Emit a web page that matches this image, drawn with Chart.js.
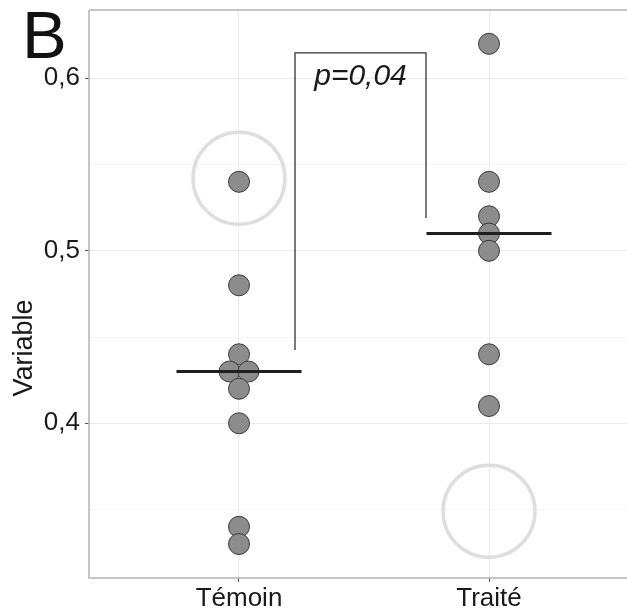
<!DOCTYPE html>
<html>
<head>
<meta charset="utf-8">
<script src="https://cdn.jsdelivr.net/npm/chart.js@4.4.1/dist/chart.umd.min.js"></script>
<style>
  html, body { margin: 0; padding: 0; background: #ffffff; overflow: hidden; }
  canvas { display: block; }
</style>
</head>
<body>
<canvas id="chart" width="627" height="612"></canvas>
<script>
// Groups on the x axis
const groups = ['Témoin', 'Traité'];

// Measured values per group
const temoinValues = [0.54, 0.48, 0.44, 0.43, 0.43, 0.42, 0.40, 0.34, 0.33];
const traiteValues = [0.62, 0.54, 0.52, 0.51, 0.50, 0.44, 0.41];

// Y axis ticks (labelled ones every 0.1, minor grid in between)
const yTickValues = [0.35, 0.40, 0.45, 0.50, 0.55, 0.60];
const yAxisTitle = 'Variable';
const panelLabel = 'B';

// Highlight rings: group index (1-based) and value
const ringGroups = [1, 2];
const ringValues = [0.542, 0.349];

// Significance bracket: x ends, top, and bottom of each leg
const bracketX = [1.224, 1.748];
const bracketTop = 0.6147;
const bracketLegBottom = [0.4425, 0.519];
const pValueLabel = 'p=0,04';

const FONT = "'Liberation Sans', Arial, Helvetica, sans-serif";

function median(arr) {
  const s = [...arr].sort((a, b) => a - b);
  const m = Math.floor(s.length / 2);
  return s.length % 2 ? s[m] : (s[m - 1] + s[m]) / 2;
}

// Spread tied values sideways so that equal points sit next to each other
function dotPoints(values, center) {
  const counts = {};
  values.forEach(v => { counts[v] = (counts[v] || 0) + 1; });
  const seen = {};
  return values.map(v => {
    const k = counts[v];
    const i = seen[v] || 0;
    seen[v] = i + 1;
    return { x: center + (i - (k - 1) / 2) * 0.076, y: v };
  });
}

const temoinMedian = median(temoinValues);
const traiteMedian = median(traiteValues);

const isMajor = v => Math.abs(Math.round(v * 10) - v * 10) < 1e-6;
const isGroup = v => Math.abs(Math.round(v) - v) < 1e-6 && v >= 1 && v <= groups.length;

// Fixed axis sizes, no extra edge padding for labels
function fixBox(size, horizontal) {
  return scale => {
    if (horizontal) scale.height = size; else scale.width = size;
    scale.paddingTop = 0;
    scale.paddingBottom = 0;
    scale.paddingLeft = 0;
    scale.paddingRight = 0;
  };
}

const framePlugin = {
  id: 'frame',
  beforeDatasetsDraw(chart) {
    const { ctx, chartArea: a } = chart;
    ctx.save();
    ctx.strokeStyle = '#b3b3b3';
    ctx.lineWidth = 1.5;
    ctx.beginPath();
    ctx.moveTo(a.left, a.top);
    ctx.lineTo(a.right, a.top);
    ctx.moveTo(a.left, a.top);
    ctx.lineTo(a.left, a.bottom);
    ctx.lineTo(a.right, a.bottom);
    ctx.stroke();
    ctx.restore();
  },
  afterDatasetsDraw(chart) {
    const { ctx } = chart;
    const xs = chart.scales.x, ys = chart.scales.y;
    ctx.save();
    ctx.fillStyle = '#1a1a1a';
    ctx.font = 'italic 30px ' + FONT;
    ctx.textAlign = 'center';
    ctx.textBaseline = 'middle';
    const cx = xs.getPixelForValue((bracketX[0] + bracketX[1]) / 2);
    const cy = ys.getPixelForValue(bracketTop) + 24;
    ctx.fillText(pValueLabel, cx, cy);
    ctx.restore();
  },
  afterDraw(chart) {
    const { ctx } = chart;
    ctx.save();
    ctx.fillStyle = '#111111';
    ctx.font = '67px ' + FONT;
    ctx.textAlign = 'left';
    ctx.textBaseline = 'alphabetic';
    ctx.fillText(panelLabel, 22, 58);

    // y axis title, rotated
    ctx.fillStyle = '#1a1a1a';
    ctx.font = '27px ' + FONT;
    ctx.translate(25, 348);
    ctx.rotate(-Math.PI / 2);
    ctx.textAlign = 'center';
    ctx.textBaseline = 'middle';
    ctx.fillText(yAxisTitle, 0, 0);
    ctx.restore();
  }
};

const pointStyle = {
  type: 'scatter',
  showLine: false,
  pointRadius: 10.5,
  pointBackgroundColor: '#8c8c8c',
  pointBorderColor: '#3a3a3a',
  pointBorderWidth: 1,
  pointHoverRadius: 10.5,
  order: 1
};

const lineStyle = (color, width, order) => ({
  type: 'line',
  showLine: true,
  borderColor: color,
  borderWidth: width,
  pointRadius: 0,
  pointHoverRadius: 0,
  fill: false,
  tension: 0,
  order
});

new Chart(document.getElementById('chart'), {
  data: {
    datasets: [
      Object.assign({ label: groups[0], data: dotPoints(temoinValues, 1) }, pointStyle),
      Object.assign({ label: groups[1], data: dotPoints(traiteValues, 2) }, pointStyle),
      Object.assign({ label: 'median ' + groups[0],
        data: [{ x: 0.75, y: temoinMedian }, { x: 1.25, y: temoinMedian }] }, lineStyle('#1f1f1f', 3, 0)),
      Object.assign({ label: 'median ' + groups[1],
        data: [{ x: 1.75, y: traiteMedian }, { x: 2.25, y: traiteMedian }] }, lineStyle('#1f1f1f', 3, 0)),
      Object.assign({ label: 'bracket',
        data: [
          { x: bracketX[0], y: bracketLegBottom[0] },
          { x: bracketX[0], y: bracketTop },
          { x: bracketX[1], y: bracketTop },
          { x: bracketX[1], y: bracketLegBottom[1] }
        ] }, lineStyle('#333333', 1.3, 2)),
      {
        type: 'scatter',
        label: 'rings',
        data: ringValues.map((v, i) => ({ x: ringGroups[i], y: v })),
        pointRadius: 46,
        pointHoverRadius: 46,
        pointBackgroundColor: 'rgba(0,0,0,0)',
        pointBorderColor: '#dedede',
        pointBorderWidth: 3.5,
        order: 3
      }
    ]
  },
  options: {
    responsive: false,
    animation: false,
    events: [],
    layout: { autoPadding: false, padding: { top: 10, right: 0, left: 0, bottom: 0 } },
    plugins: { legend: { display: false }, tooltip: { enabled: false } },
    scales: {
      x: {
        type: 'linear',
        min: 0.4,
        max: 2.552,
        afterBuildTicks(scale) { scale.ticks = groups.map((g, i) => ({ value: i + 1 })); },
        afterFit: fixBox(34, true),
        ticks: {
          autoSkip: false,
          maxRotation: 0,
          padding: 1,
          color: '#1a1a1a',
          font: { family: FONT, size: 26 },
          callback: v => groups[Math.round(v) - 1]
        },
        grid: {
          color: ctx => ctx.tick && isGroup(ctx.tick.value) ? '#ebebeb' : 'rgba(0,0,0,0)',
          lineWidth: 1,
          tickLength: 4,
          tickColor: ctx => ctx.tick && isGroup(ctx.tick.value) ? '#555555' : 'rgba(0,0,0,0)',
          tickWidth: 1
        },
        border: { display: false, width: 0 }
      },
      y: {
        type: 'linear',
        min: 0.3103,
        max: 0.6396,
        afterBuildTicks(scale) { scale.ticks = yTickValues.map(v => ({ value: v })); },
        afterFit: fixBox(89, false),
        ticks: {
          autoSkip: false,
          padding: 5,
          color: '#1a1a1a',
          font: { family: FONT, size: 26 },
          callback: v => isMajor(v) ? v.toFixed(1).replace('.', ',') : ''
        },
        grid: {
          color: ctx => ctx.tick && isMajor(ctx.tick.value) ? '#ebebeb' : '#f5f5f5',
          lineWidth: 1,
          tickLength: 4,
          tickColor: ctx => ctx.tick && isMajor(ctx.tick.value) ? '#555555' : 'rgba(0,0,0,0)',
          tickWidth: 1
        },
        border: { display: false, width: 0 }
      }
    }
  },
  plugins: [framePlugin]
});
</script>
</body>
</html>
